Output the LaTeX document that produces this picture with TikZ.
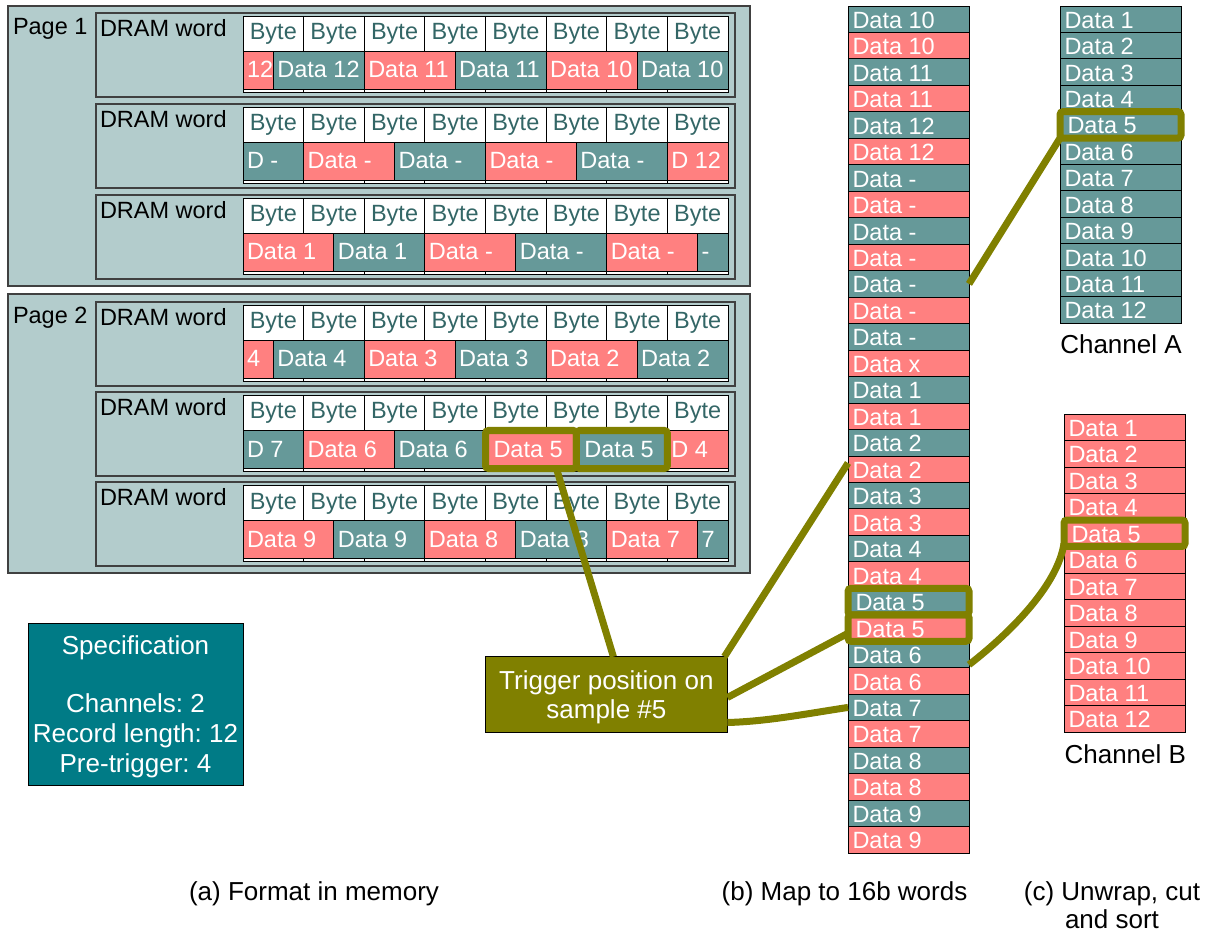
\documentclass[tikz,border=0pt]{standalone}
\usepackage{fontspec}
\setmainfont{Liberation Sans}
\usetikzlibrary{calc}
\frenchspacing

\definecolor{pagefill}{HTML}{B3CCCC}
\definecolor{frameline}{HTML}{404040}
\definecolor{tealc}{HTML}{669999}
\definecolor{pinkc}{HTML}{FF8080}
\definecolor{bytetxt}{HTML}{336666}
\definecolor{specfill}{HTML}{007B86}
\definecolor{olivec}{HTML}{808000}

\newcommand\cellfont{\fontsize{23.5}{26}\selectfont}
\newcommand\bigfont{\fontsize{26}{29}\selectfont}

% one DRAM word: #1 name, #2 top edge, #3 list of start/end(bytes)/colour/text
\newcommand\dramword[3]{%
  \node[wordbox] (#1) at (96,#2) {};
  \node[lbl, anchor=base west] (#1lbl) at (100,#2+23.5) {DRAM word};
  \foreach \k in {1,...,8}{
    \node[bytebox] (#1b\k) at ({243+(\k-1)*60.625},#2+3.5) {Byte};
  }
  \foreach \ua/\ub/\col/\txt [count=\i] in {#3}{
    \pgfmathsetmacro\xa{243+\ua*60.625}
    \pgfmathsetmacro\tw{(\ub-\ua)*60.625-8}
    \node[dcell, fill=\col] (#1c\i) at (\xa,#2+38.5) {\makebox[\tw pt][l]{\txt}};
  }
}

\begin{document}
\begin{tikzpicture}[x=1pt,y=-1pt,
  every node/.style={inner sep=0pt, outer sep=0pt},
  pagebox/.style={draw=frameline, fill=pagefill, line width=1.5pt, anchor=north west, minimum width=742},
  wordbox/.style={draw=frameline, fill=pagefill, line width=1.5pt, anchor=north west, minimum width=639, minimum height=84},
  lbl/.style={font=\cellfont, text=black},
  bytebox/.style={draw=black, fill=white, line width=0.9pt, anchor=north west, minimum width=60.625,
    text height=23.5pt, text depth=52.5pt, text=bytetxt, font=\cellfont},
  dcell/.style={draw=black, line width=0.9pt, anchor=north west, inner xsep=4pt,
    text height=26.5pt, text depth=11.5pt, text=white, font=\cellfont},
  rowcell/.style={draw=black, line width=0.9pt, anchor=north west, inner xsep=4.5pt,
    text height=22.3pt, text depth=4.15pt, text=white, font=\cellfont},
  hl/.style={draw=olivec, line width=7pt, rounded corners=3pt},
  conn/.style={draw=olivec, line width=7pt},
  capt/.style={font=\bigfont, text=black},
]
\useasboundingbox (0,0) rectangle (1211,933);

% ---------- (a) format in memory ----------
\node[pagebox, minimum height=280] (page1) at (8,6) {};
\node[lbl, anchor=base west] (page1lbl) at (13,35) {Page 1};
\dramword{pAwA}{13}{0/0.5/pinkc/12, 0.5/2/tealc/Data 12, 2/3.5/pinkc/Data 11,
  3.5/5/tealc/Data 11, 5/6.5/pinkc/Data 10, 6.5/8/tealc/Data 10}
\dramword{pAwB}{104}{0/1/tealc/D -, 1/2.5/pinkc/Data -, 2.5/4/tealc/Data -,
  4/5.5/pinkc/Data -, 5.5/7/tealc/Data -, 7/8/pinkc/D 12}
\dramword{pAwC}{195}{0/1.5/pinkc/Data 1, 1.5/3/tealc/Data 1, 3/4.5/pinkc/Data -,
  4.5/6/tealc/Data -, 6/7.5/pinkc/Data -, 7.5/8/tealc/-}

\node[pagebox, minimum height=279] (page2) at (8,294) {};
\node[lbl, anchor=base west] (page2lbl) at (13,323.3) {Page 2};
\dramword{pBwA}{302}{0/0.5/pinkc/4, 0.5/2/tealc/Data 4, 2/3.5/pinkc/Data 3,
  3.5/5/tealc/Data 3, 5/6.5/pinkc/Data 2, 6.5/8/tealc/Data 2}
\dramword{pBwB}{392}{0/1/tealc/D 7, 1/2.5/pinkc/Data 6, 2.5/4/tealc/Data 6,
  4/5.5/pinkc/\hspace{4pt}Data 5, 5.5/7/tealc/\hspace{4pt}Data 5, 7/8/pinkc/D 4}
\dramword{pBwC}{482}{0/1.5/pinkc/Data 9, 1.5/3/tealc/Data 9, 3/4.5/pinkc/Data 8,
  4.5/6/tealc/Data 8, 6/7.5/pinkc/Data 7, 7.5/8/tealc/7}

% ---------- (b) 16-bit words ----------
\foreach \txt/\col [count=\i] in {Data 10/tealc, Data 10/pinkc, Data 11/tealc, Data 11/pinkc,
  Data 12/tealc, Data 12/pinkc, Data -/tealc, Data -/pinkc, Data -/tealc, Data -/pinkc,
  Data -/tealc, Data -/pinkc, Data -/tealc, Data x/pinkc, Data 1/tealc, Data 1/pinkc,
  Data 2/tealc, Data 2/pinkc, Data 3/tealc, Data 3/pinkc, Data 4/tealc, Data 4/pinkc,
  \hspace{3pt}Data 5/tealc, \hspace{3pt}Data 5/pinkc, Data 6/tealc, Data 6/pinkc,
  Data 7/tealc, Data 7/pinkc, Data 8/tealc, Data 8/pinkc, Data 9/tealc, Data 9/pinkc}{
  \node[rowcell, fill=\col] (b\i) at (848,{6+(\i-1)*26.47}) {\makebox[112pt][l]{\txt}};
}

% ---------- (c) channels ----------
\foreach \txt [count=\i] in {Data 1, Data 2, Data 3, Data 4, \hspace{3pt}Data 5, Data 6,
  Data 7, Data 8, Data 9, Data 10, Data 11, Data 12}{
  \node[rowcell, fill=tealc] (chA\i) at (1060,{6+(\i-1)*26.42}) {\makebox[112pt][l]{\txt}};
  \node[rowcell, fill=pinkc] (chB\i) at (1064,{414+(\i-1)*26.5}) {\makebox[112pt][l]{\txt}};
}
\node[capt, anchor=base] (chAlbl) at (1121,354) {Channel A};
\node[capt, anchor=base] (chBlbl) at (1125.3,763.3) {Channel B};

% ---------- trigger and its links ----------
\node[draw=black, line width=0.9pt, fill=olivec, minimum width=242, minimum height=75.6,
  text=white, font=\bigfont, align=center] (trigger) at (606.4,694.5)
  {\rule{0pt}{24pt}Trigger position on\\sample \#5};

\draw[conn] ($(trigger.north)+(7,0)$) -- ($(pBwBc4.south west)!0.78!(pBwBc4.south east)$);
\draw[conn] ($(trigger.north east)+(-3,0)$) -- ($(b18.north west)+(0,7)$);
\draw[conn] ($(trigger.east)+(0,3)$) -- ($(b24.south west)+(0,-8)$);
\draw[conn] ($(trigger.east)+(0,28)$) .. controls ($(trigger.east)+(40,27)$)
  and ($(b27.west)+(-40,6)$) .. (b27.west);
\draw[conn] (b11.east) -- (chA5.south west);
\draw[conn] ($(b25.south east)+(0,-3)$) .. controls ($(b25.south east)+(45,-38)$)
  and ($(chB5.south west)+(-6,37)$) .. ($(chB5.south west)+(0,-3)$);

\draw[hl] (pBwBc4.north west) rectangle (pBwBc4.south east);
\draw[hl] (pBwBc5.north west) rectangle (pBwBc5.south east);
\draw[hl] (b23.north west) rectangle (b23.south east);
\draw[hl] (b24.north west) rectangle (b24.south east);
\draw[hl] (chA5.north west) rectangle (chA5.south east);
\draw[hl] (chB5.north west) rectangle (chB5.south east);

% ---------- specification ----------
\node[draw=black, line width=0.9pt, fill=specfill, minimum width=215, minimum height=162,
  text=white, align=center, font=\fontsize{26}{30}\selectfont] (spec) at (135.5,704)
  {\rule{0pt}{24.5pt}Specification\\[28pt]Channels: 2\\Record length: 12\\Pre-trigger: 4};

% ---------- captions ----------
\node[capt, anchor=base] (capa) at (314,900) {(a) Format in memory};
\node[capt, anchor=base] (capb) at (844.5,900) {(b) Map to 16b words};
\node[capt, anchor=base] (capc) at (1112,900) {(c) Unwrap, cut};
\node[capt, anchor=base] (capd) at (1112,928) {and sort};
\end{tikzpicture}
\end{document}
